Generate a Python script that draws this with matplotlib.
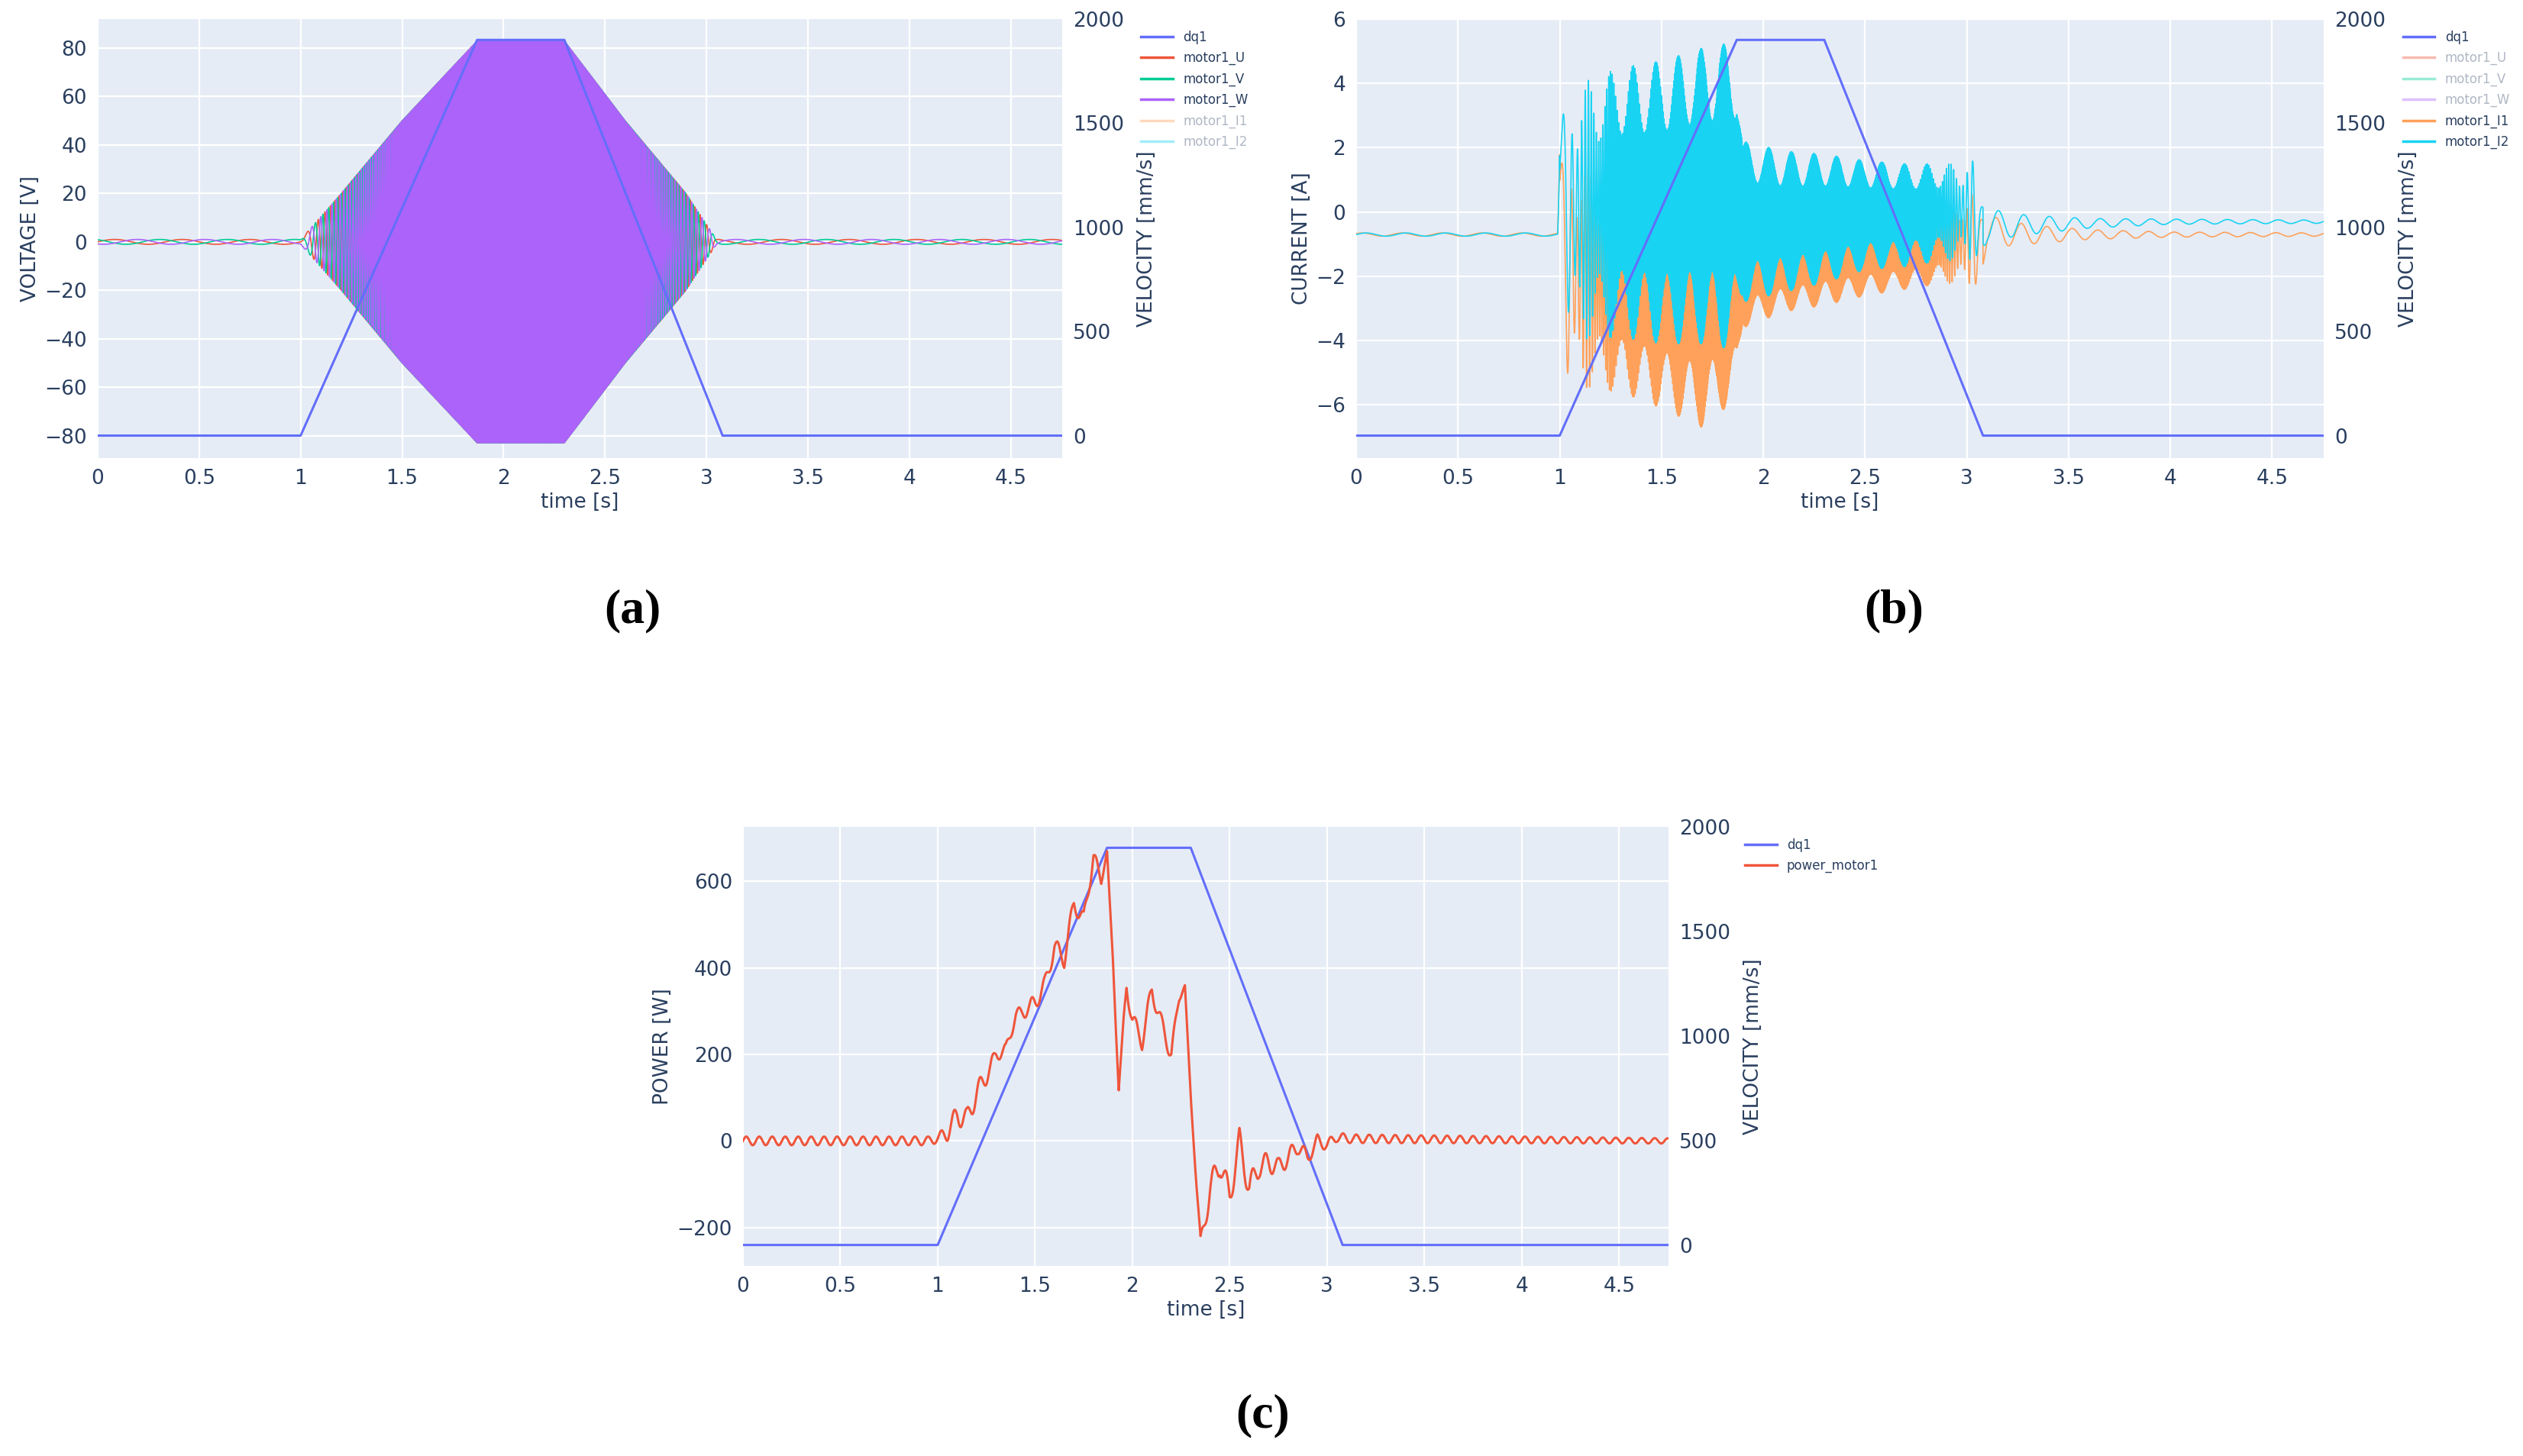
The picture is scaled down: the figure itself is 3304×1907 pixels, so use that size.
import numpy as np
import matplotlib
matplotlib.use("Agg")
import matplotlib.pyplot as plt
from matplotlib.lines import Line2D

# ---- data ----
vel_t = [0.0, 1.0, 1.87, 2.3, 3.08, 4.754]
vel_v = [0, 0, 1900, 1900, 0, 0]

# voltage envelope (amplitude, V)
volt_env_t = [0.0, 1.0, 1.2, 1.5, 1.87, 2.3, 2.6, 2.9, 3.05, 4.754]
volt_env_a = [1.0, 1.0, 20, 50, 83, 83, 50, 20, 1.0, 1.0]

# current envelopes: (time, centre, amplitude)
i1_t = [0.0, 0.99, 1.0, 1.1, 1.3, 1.5, 1.7, 1.87, 1.9, 2.1, 2.3, 2.5, 2.7, 2.9, 3.05, 3.1, 3.3, 3.6, 4.0, 4.754]
i1_c = [-0.7, -0.7, -1.5, -2.0, -2.3, -2.5, -2.8, -2.5, -1.8, -1.6, -1.4, -1.3, -1.2, -1.0, -0.9, -0.6, -0.7, -0.7, -0.7, -0.7]
i1_a = [0.05, 0.05, 3.5, 3.5, 3.3, 3.6, 3.9, 3.3, 1.8, 1.5, 1.5, 1.3, 1.2, 1.2, 1.5, 0.5, 0.3, 0.15, 0.08, 0.05]
i2_t = [0.0, 0.99, 1.0, 1.1, 1.3, 1.5, 1.7, 1.87, 1.9, 2.1, 2.3, 2.5, 2.7, 2.9, 3.05, 3.1, 3.3, 3.6, 4.0, 4.754]
i2_c = [-0.7, -0.7, 0.0, 0.0, 0.3, 0.3, 0.5, 0.5, -0.3, -0.3, -0.2, -0.1, -0.1, 0.0, 0.0, -0.4, -0.4, -0.35, -0.3, -0.3]
i2_a = [0.05, 0.05, 3.0, 4.0, 4.2, 4.4, 4.6, 4.8, 2.5, 2.2, 2.0, 1.7, 1.6, 1.5, 1.6, 0.5, 0.3, 0.15, 0.08, 0.05]

# power (W) key samples
pw_t = [0.0, 0.95, 1.0, 1.05, 1.1, 1.15, 1.2, 1.25, 1.3, 1.35, 1.4, 1.45, 1.5, 1.55, 1.6, 1.65, 1.7, 1.75, 1.8, 1.84,
        1.87, 1.9, 1.93, 1.97, 2.0, 2.05, 2.1, 2.15, 2.2, 2.24, 2.27, 2.3, 2.35, 2.4, 2.45, 2.5, 2.55, 2.6, 2.65, 2.7,
        2.75, 2.8, 2.85, 2.9, 2.95, 3.0, 3.05, 3.1, 4.754]
pw_v = [0, 0, 5, 20, 60, 50, 110, 150, 200, 210, 290, 300, 320, 360, 450, 420, 550, 510, 660, 600,
        670, 420, 120, 360, 280, 230, 350, 270, 200, 330, 360, 100, -240, -110, -50, -130, 0, -110, -60, -50,
        -60, -40, -10, -40, 0, -10, 10, 5, 0]
pw_ripple = [10, 10, 10, 20, 25, 25, 25, 20, 15, 15, 15, 15, 20, 20, 20, 20, 20, 20, 20, 10,
             0, 10, 10, 20, 20, 20, 20, 20, 20, 10, 0, 0, 20, 30, 30, 30, 30, 30, 25, 25,
             20, 20, 20, 15, 15, 12, 12, 10, 6]

# ---- signal construction ----
t = np.linspace(0, 4.754, 60000)
vel = np.interp(t, vel_t, vel_v)
phase = 2 * np.pi * np.cumsum(vel * 0.12 + 3) * (t[1] - t[0])

C = dict(dq1="#636EFA", U="#EF553B", V="#00CC96", W="#AB63FA", I1="#FFA15A", I2="#19D3F3")
BG = "#E5ECF6"

fig = plt.figure(figsize=(33.04, 19.07), dpi=100)
W, H = 3304, 1907

def mkax(x0, y0, x1, y1):
    ax = fig.add_axes([x0 / W, 1 - y1 / H, (x1 - x0) / W, (y1 - y0) / H])
    ax.set_facecolor(BG)
    for s in ax.spines.values():
        s.set_visible(False)
    ax.grid(True, color="white", lw=1.6)
    ax.set_axisbelow(True)
    ax.tick_params(length=0, labelsize=19, colors="#2a3f5f", pad=10)
    ax.set_xlim(0, 4.754)
    ax.set_xticks([0, 0.5, 1, 1.5, 2, 2.5, 3, 3.5, 4, 4.5])
    ax.set_xticklabels(["0", "0.5", "1", "1.5", "2", "2.5", "3", "3.5", "4", "4.5"])
    ax.set_xlabel("time [s]", fontsize=19, color="#2a3f5f")
    ax2 = ax.twinx()
    for s in ax2.spines.values():
        s.set_visible(False)
    ax2.tick_params(length=0, labelsize=19, colors="#2a3f5f", pad=10)
    ax2.set_ylabel("VELOCITY [mm/s]", fontsize=19, color="#2a3f5f", labelpad=12)
    ax2.set_yticks([0, 500, 1000, 1500, 2000])
    ax2.plot(vel_t, vel_v, color=C["dq1"], lw=2.2, zorder=5)
    return ax, ax2

def legend(ax, items, x, y):
    handles = [Line2D([], [], color=c, lw=2.5, alpha=a) for _, c, a, _ in items]
    leg = ax.legend(handles, [n for n, _, _, _ in items], loc="upper left",
                    bbox_to_anchor=(x, y), frameon=False, fontsize=12, handlelength=2.5,
                    labelspacing=0.55)
    for txt, (_, _, _, tc) in zip(leg.get_texts(), items):
        txt.set_color(tc)

# (a) voltage
ax, ax2 = mkax(128, 25, 1391, 600)
env = np.interp(t, volt_env_t, volt_env_a)
for k, key in enumerate(["U", "V", "W"]):
    ax.plot(t, env * np.sin(phase + k * 2 * np.pi / 3), color=C[key], lw=1.2)
ax.set_ylim(-89.3, 92)
ax.set_yticks(range(-80, 81, 20))
ax.set_ylabel("VOLTAGE [V]", fontsize=19, color="#2a3f5f")
ax2.set_ylim(-108, 2000)
ax2.set_zorder(ax.get_zorder() + 1)
legend(ax, [("dq1", C["dq1"], 1, "#2a3f5f"), ("motor1_U", C["U"], 1, "#2a3f5f"),
            ("motor1_V", C["V"], 1, "#2a3f5f"), ("motor1_W", C["W"], 1, "#2a3f5f"),
            ("motor1_I1", C["I1"], 0.4, "#b0b8c4"), ("motor1_I2", C["I2"], 0.4, "#b0b8c4")], 1.07, 1.0)

# (b) current
ax, ax2 = mkax(1776, 25, 3043, 600)
c1 = np.interp(t, i1_t, i1_c); a1 = np.interp(t, i1_t, i1_a)
c2 = np.interp(t, i2_t, i2_c); a2 = np.interp(t, i2_t, i2_a)
ph2 = np.where(t < 3.08, phase * 1.7, 2 * np.pi * 8 * t)
beat = np.where((t > 1.0) & (t < 3.08), 0.75 + 0.25 * np.sin(2 * np.pi * 9 * t), 1.0)
ax.plot(t, c1 + a1 * beat * np.sin(ph2 + 0.6), color=C["I1"], lw=1.2)
ax.plot(t, c2 + a2 * beat * np.sin(ph2), color=C["I2"], lw=1.2)
ax.set_ylim(-7.65, 6)
ax.set_yticks(range(-6, 7, 2))
ax.set_ylabel("CURRENT [A]", fontsize=19, color="#2a3f5f")
ax2.set_ylim(-108, 2000)
ax2.set_zorder(ax.get_zorder() + 1)
legend(ax, [("dq1", C["dq1"], 1, "#2a3f5f"), ("motor1_U", C["U"], 0.4, "#b0b8c4"),
            ("motor1_V", C["V"], 0.4, "#b0b8c4"), ("motor1_W", C["W"], 0.4, "#b0b8c4"),
            ("motor1_I1", C["I1"], 1, "#2a3f5f"), ("motor1_I2", C["I2"], 1, "#2a3f5f")], 1.07, 1.0)

# (c) power
ax, ax2 = mkax(973, 1083, 2185, 1658)
pv = np.interp(t, pw_t, pw_v)
rp = np.interp(t, pw_t, pw_ripple)
ax2.plot(t, (pv + rp * np.sin(2 * np.pi * 15 * t) + 289) / (726 + 289) * 2100 - 100,
         color=C["U"], lw=2.2, zorder=6)
ax.set_ylim(-289, 726)
ax.set_yticks([-200, 0, 200, 400, 600])
ax.set_yticklabels(["\u2212200", "0", "200", "400", "600"])
ax.set_ylabel("POWER [W]", fontsize=19, color="#2a3f5f")
ax2.set_ylim(-100, 2000)
legend(ax, [("dq1", C["dq1"], 1, "#2a3f5f"), ("power_motor1", C["U"], 1, "#2a3f5f")], 1.07, 1.0)

for lab, x, y in [("(a)", 828, 800), ("(b)", 2480, 800), ("(c)", 1654, 1854)]:
    fig.text(x / W, 1 - y / H, lab, fontsize=46, fontweight="bold", family="Liberation Serif",
             ha="center", va="center")

fig.savefig("out.png", dpi=100, facecolor="white")
